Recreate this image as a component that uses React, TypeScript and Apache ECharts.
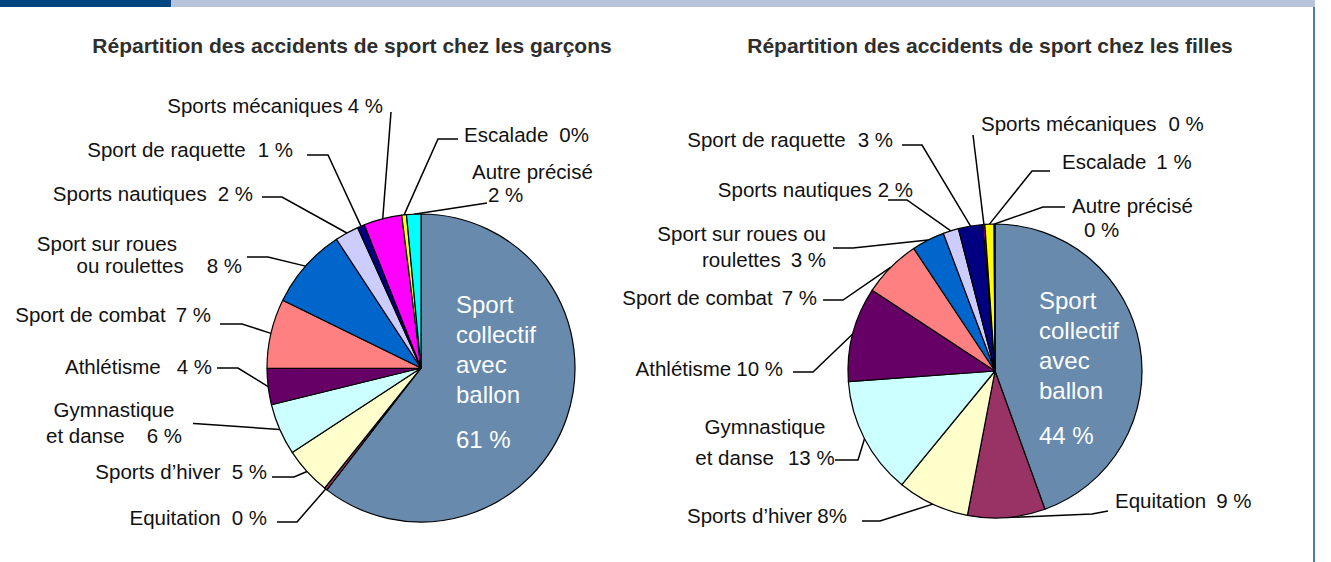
import React, { useEffect, useRef } from 'react';
import * as echarts from 'echarts';

// ---------- data ----------
const categories = [
  'Sport collectif avec ballon', 'Equitation', "Sports d’hiver", 'Gymnastique et danse',
  'Athlétisme', 'Sport de combat', 'Sport sur roues ou roulettes', 'Sports nautiques',
  'Sport de raquette', 'Sports mécaniques', 'Escalade', 'Autre précisé',
];
// slice sizes
const boysValues = [60.5, 0.3, 5.0, 5.4, 3.8, 7.3, 8.5, 2.5, 0.75, 4.0, 0.5, 1.5];
const girlsValues = [44.4, 8.5, 7.9, 12.9, 10.4, 6.4, 3.6, 1.7, 2.7, 0.2, 1.0, 0.1];
// printed percentages
const boysPct = ['61 %', '0 %', '5 %', '6 %', '4 %', '7 %', '8 %', '2 %', '1 %', '4 %', '0%', '2 %'];
const girlsPct = ['44 %', '9 %', '8%', '13 %', '10 %', '7 %', '3 %', '2 %', '3 %', '0 %', '1 %', '0 %'];
// label names as broken in each chart
const boysNames = [
  'Sport\ncollectif\navec\nballon', 'Equitation', 'Sports d’hiver', 'Gymnastique\net danse',
  'Athlétisme', 'Sport de combat', 'Sport sur roues\nou roulettes', 'Sports nautiques',
  'Sport de raquette', 'Sports mécaniques', 'Escalade', 'Autre précisé',
];
const girlsNames = [
  'Sport\ncollectif\navec\nballon', 'Equitation', 'Sports d’hiver', 'Gymnastique\net danse',
  'Athlétisme', 'Sport de combat', 'Sport sur roues ou\nroulettes', 'Sports nautiques',
  'Sport de raquette', 'Sports mécaniques', 'Escalade', 'Autre précisé',
];
const titles = [
  'Répartition des accidents de sport chez les garçons',
  'Répartition des accidents de sport chez les filles',
];

// ---------- styles / layout ----------
const sliceColors = ['#678aad', '#993366', '#ffffcc', '#ccffff', '#660066', '#ff8080',
  '#0066cc', '#ccccff', '#000080', '#ff00ff', '#ffff00', '#00ffff'];

type LL = {
  x: number; y: number; align: 'left' | 'right' | 'center'; va?: 'top' | 'middle';
  gap?: number; nl?: boolean; qpad?: number; pad1?: number; lh?: number; spacer?: number;
  line?: number[][];
};

const boysLayout: LL[] = [
  { x: 456, y: 289, align: 'left', va: 'top', nl: true, spacer: 15 },
  { x: 267, y: 517, align: 'right', gap: 11, line: [[297, 522], [277, 522]] },
  { x: 267, y: 471, align: 'right', gap: 11, line: [[294, 477], [272, 477]] },
  { x: 114, y: 422.5, align: 'center', lh: 25.5, gap: 22, line: [[194, 423.5], [193, 423.5]] },
  { x: 212, y: 366, align: 'right', gap: 16, line: [[238, 368], [217, 368]] },
  { x: 211, y: 314, align: 'right', gap: 10, line: [[242, 324], [220, 324]] },
  { x: 242, y: 254, align: 'right', pad1: 65, gap: 23, lh: 22, line: [[268, 257], [247, 257]] },
  { x: 253, y: 193, align: 'right', gap: 11, line: [[282, 197], [262, 197]] },
  { x: 293, y: 149, align: 'right', gap: 12, line: [[328, 155], [307, 155]] },
  { x: 383, y: 105, align: 'right', gap: 5, line: [[391, 112], [391, 112]] },
  { x: 464, y: 134, align: 'left', gap: 11, line: [[438, 139], [458, 139]] },
  { x: 472, y: 183, align: 'left', nl: true, qpad: 16, lh: 23.4, line: [[487, 203], [487, 203]] },
];

const girlsLayout: LL[] = [
  { x: 1039, y: 285, align: 'left', va: 'top', nl: true, spacer: 15 },
  { x: 1115, y: 500, align: 'left', gap: 10, line: [[1092, 514], [1108, 511]] },
  { x: 847, y: 515, align: 'right', gap: 5, line: [[880, 521], [862, 521]] },
  { x: 765, y: 442, align: 'center', lh: 31, gap: 14, line: [[858, 460], [835, 460]] },
  { x: 783, y: 368, align: 'right', gap: 5, line: [[813, 372], [793, 372]] },
  { x: 817, y: 297.5, align: 'right', gap: 9, line: [[843, 300], [823, 300]] },
  { x: 826, y: 246, align: 'right', gap: 10, lh: 26, line: [[853, 248], [833, 248]] },
  { x: 913, y: 189, align: 'right', gap: 6, line: [[907, 200], [888, 200]] },
  { x: 893, y: 139, align: 'right', gap: 12, line: [[922, 145], [902, 145]] },
  { x: 981, y: 123, align: 'left', gap: 12, line: [[973, 135], [973, 135]] },
  { x: 1062, y: 161, align: 'left', gap: 10, line: [[1032, 171], [1050, 171]] },
  { x: 1072, y: 217.5, align: 'left', nl: true, qpad: 12, lh: 23.4, line: [[1043, 207], [1065, 207]] },
];

const FONT = 'Liberation Sans';

function buildLabel(name: string, pct: string, L: LL): string {
  const lines = name.split('\n').map((l, i) => `{${i === 0 && L.pad1 ? 'f' : 'n'}|${l}}`);
  if (L.spacer) lines.push('{s| }');
  if (L.nl) lines.push(`{q|${pct}}`);
  else lines[lines.length - 1] += `{p|${pct}}`;
  return lines.join('\n');
}

function makeData(values: number[], names: string[], pcts: string[], layout: LL[]) {
  return values.map((v, i) => {
    const L = layout[i];
    const inside = i === 0;
    const label: any = {
      formatter: buildLabel(names[i], pcts[i], L),
      rich: {
        n: {},
        f: { padding: [0, L.pad1 || 0, 0, 0] },
        p: { padding: [0, 0, 0, L.gap || 0] },
        q: { padding: [0, 0, 0, L.qpad || 0] },
        s: { lineHeight: L.spacer || 0, fontSize: 8 },
      },
    };
    if (inside) { label.color = '#ffffff'; label.fontSize = 24; label.lineHeight = 30; }
    if (L.lh) label.lineHeight = L.lh;
    return {
      value: v,
      name: categories[i],
      itemStyle: { color: sliceColors[i] },
      label,
      labelLine: { show: !!L.line },
    };
  });
}

function pieSeries(values: number[], names: string[], pcts: string[], layout: LL[], center: number[], radius: number) {
  return {
    type: 'pie',
    center,
    radius,
    startAngle: 90,
    clockwise: true,
    avoidLabelOverlap: false,
    silent: true,
    itemStyle: { borderColor: '#000000', borderWidth: 1.2 },
    label: {
      show: true,
      position: 'outside',
      fontFamily: FONT,
      fontSize: 20.5,
      lineHeight: 24,
      color: '#111111',
    },
    labelLine: { show: true, length: 10, length2: 10, lineStyle: { color: '#000000', width: 1.5 } },
    labelLayout: (p: any) => {
      const L = layout[p.dataIndex];
      const r: any = { x: L.x, y: L.y, align: L.align, verticalAlign: L.va || 'middle' };
      if (L.line && p.labelLinePoints && p.labelLinePoints.length) {
        r.labelLinePoints = [p.labelLinePoints[0], L.line[0], L.line[1]];
      }
      return r;
    },
    data: makeData(values, names, pcts, layout),
  };
}

export default function App() {
  const ref = useRef<HTMLDivElement>(null);
  useEffect(() => {
    document.body.style.margin = '0';
    if (!ref.current) return;
    const chart = echarts.init(ref.current, null, { renderer: 'svg' });
    chart.setOption({
      animation: false,
      backgroundColor: '#ffffff',
      graphic: [
        { type: 'rect', shape: { x: 0, y: 0, width: 171, height: 7 }, style: { fill: '#03467f' } },
        { type: 'rect', shape: { x: 171, y: 0, width: 1144, height: 7 }, style: { fill: '#b8c4dc' } },
        { type: 'rect', shape: { x: 1313, y: 7, width: 2, height: 555 }, style: { fill: '#4f7aa6' } },
        { type: 'text', x: 352, y: 45, style: { text: titles[0], align: 'center', verticalAlign: 'middle', font: `bold 21px "${FONT}"`, fill: '#2e2e2e' } },
        { type: 'text', x: 990, y: 45, style: { text: titles[1], align: 'center', verticalAlign: 'middle', font: `bold 21px "${FONT}"`, fill: '#2e2e2e' } },
      ],
      series: [
        pieSeries(boysValues, boysNames, boysPct, boysLayout, [421, 368], 154),
        pieSeries(girlsValues, girlsNames, girlsPct, girlsLayout, [995, 371], 147),
      ],
    });
    return () => chart.dispose();
  }, []);
  return <div ref={ref} style={{ width: 1331, height: 562 }} />;
}
